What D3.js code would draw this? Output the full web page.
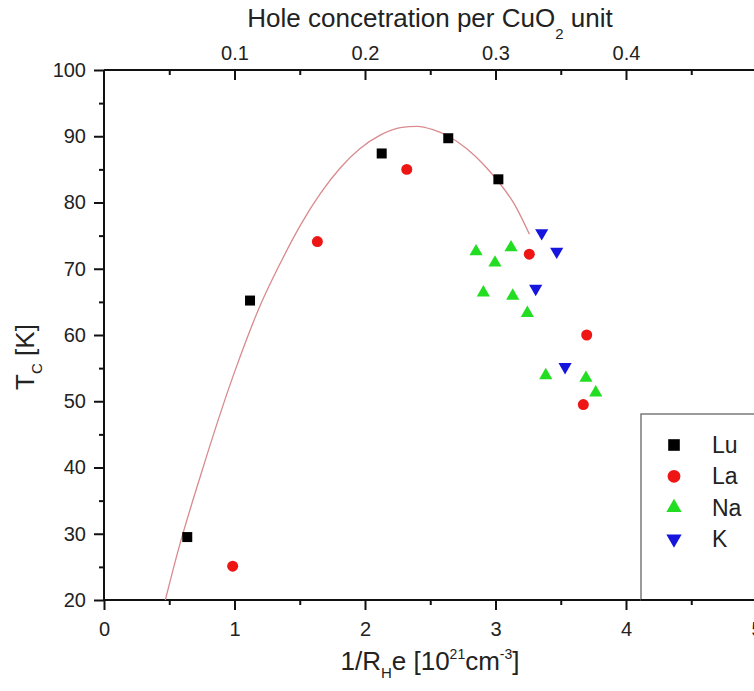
<!DOCTYPE html>
<html>
<head>
<meta charset="utf-8">
<script src="https://cdn.jsdelivr.net/npm/d3@7"></script>
<style>
  body { margin: 0; background: #fff; }
  svg { display: block; font-family: "Liberation Sans", Arial, sans-serif; }
</style>
</head>
<body>
<div id="chart"></div>
<script>
// data
var luX = [0.638, 1.119, 2.128, 2.638, 3.022];
var luY = [29.5, 65.2, 87.4, 89.7, 83.5];

var laX = [0.986, 1.635, 2.32, 3.259, 3.699, 3.673];
var laY = [25.1, 74.1, 85.0, 72.2, 60.0, 49.5];

var naX = [2.851, 2.996, 3.119, 2.907, 3.132, 3.244, 3.385, 3.693, 3.768];
var naY = [72.6, 70.9, 73.2, 66.4, 65.9, 63.3, 53.9, 53.5, 51.3];

var kX = [3.354, 3.469, 3.308, 3.533];
var kY = [75.4, 72.6, 67.0, 55.2];

// fitted curve
var fitX = [0.47, 0.57, 0.74, 1.00, 1.20, 1.35, 1.50, 1.66, 1.81, 1.96, 2.12, 2.27, 2.40, 2.52, 2.64, 2.78, 2.91, 3.02, 3.14, 3.26];
var fitY = [20.0, 27.6, 38.8, 54.4, 64.6, 70.8, 76.4, 81.4, 85.2, 88.1, 90.2, 91.3, 91.5, 91.0, 90.0, 88.1, 85.7, 83.2, 79.9, 75.2];

var xTicks = [0, 1, 2, 3, 4, 5];
var xMinor = [0.5, 1.5, 2.5, 3.5, 4.5];
var topTicks = [0.1, 0.2, 0.3, 0.4];
var topMinor = [0.05, 0.15, 0.25, 0.35, 0.45];
var yTicks = [20, 30, 40, 50, 60, 70, 80, 90, 100];
var yMinor = [25, 35, 45, 55, 65, 75, 85, 95];

var seriesNames = ["Lu", "La", "Na", "K"];

var W = 754, H = 691;
var svg = d3.select("#chart").append("svg")
  .attr("width", W)
  .attr("height", H);

var x = d3.scaleLinear().domain([0, 5]).range([104, 756.5]);
var xTop = d3.scaleLinear().domain([0, 0.5]).range([104, 756.5]);
var y = d3.scaleLinear().domain([20, 100]).range([600, 70]);

var textCol = "#222";

// axes
function styleAxis(g) {
  g.select(".domain").remove();
  g.selectAll(".tick line").attr("stroke", "#111").attr("stroke-width", 2);
  g.selectAll(".tick text").attr("fill", textCol).attr("font-size", 20)
    .attr("font-family", "Liberation Sans, Arial, sans-serif");
}

svg.append("g").attr("transform", "translate(0,600)")
  .call(d3.axisBottom(x).tickValues(xTicks).tickSize(10).tickPadding(12).tickFormat(d3.format("d")))
  .call(styleAxis);
svg.append("g").attr("transform", "translate(0,600)")
  .call(d3.axisBottom(x).tickValues(xMinor).tickSize(5).tickFormat(""))
  .call(styleAxis);

svg.append("g").attr("transform", "translate(0,70)")
  .call(d3.axisTop(xTop).tickValues(topTicks).tickSize(-10).tickPadding(10).tickFormat(d3.format(".1f")))
  .call(styleAxis);
svg.append("g").attr("transform", "translate(0,70)")
  .call(d3.axisTop(xTop).tickValues(topMinor).tickSize(-5).tickFormat(""))
  .call(styleAxis);

svg.append("g").attr("transform", "translate(104,0)")
  .call(d3.axisLeft(y).tickValues(yTicks).tickSize(10).tickPadding(8))
  .call(styleAxis);
svg.append("g").attr("transform", "translate(104,0)")
  .call(d3.axisLeft(y).tickValues(yMinor).tickSize(5).tickFormat(""))
  .call(styleAxis);

// frame
var frame = svg.append("g").attr("stroke", "#111").attr("stroke-width", 2);
frame.append("line").attr("x1", 104).attr("x2", 104).attr("y1", 70).attr("y2", 600);
frame.append("line").attr("x1", 104).attr("x2", 757).attr("y1", 70).attr("y2", 70);
frame.append("line").attr("x1", 104).attr("x2", 757).attr("y1", 600).attr("y2", 600);
frame.append("line").attr("x1", 757).attr("x2", 757).attr("y1", 70).attr("y2", 600);

// fit line
var fit = fitX.map(function (d, i) { return [d, fitY[i]]; });
svg.append("path")
  .datum(fit)
  .attr("fill", "none")
  .attr("stroke", "#d98a8e")
  .attr("stroke-width", 1.3)
  .attr("d", d3.line().x(d => x(d[0])).y(d => y(d[1])).curve(d3.curveMonotoneX));

// markers
var sym = {
  Lu: { type: d3.symbolSquare, size: 100, color: "#000", rot: 0, xs: luX, ys: luY },
  La: { type: d3.symbolCircle, size: 95, color: "#ee1515", rot: 0, xs: laX, ys: laY },
  Na: { type: d3.symbolTriangle, size: 75, color: "#22dd22", rot: 0, xs: naX, ys: naY },
  K: { type: d3.symbolTriangle, size: 75, color: "#1515dd", rot: 180, xs: kX, ys: kY }
};

seriesNames.forEach(function (name) {
  var s = sym[name];
  svg.append("g").selectAll("path")
    .data(s.xs.map(function (d, i) { return [d, s.ys[i]]; }))
    .enter().append("path")
    .attr("d", d3.symbol().type(s.type).size(s.size))
    .attr("transform", d => "translate(" + x(d[0]) + "," + y(d[1]) + ") rotate(" + s.rot + ")")
    .attr("fill", s.color);
});

// legend
var leg = svg.append("g");
leg.append("rect")
  .attr("x", 641).attr("y", 414)
  .attr("width", 130).attr("height", 186)
  .attr("fill", "#fff")
  .attr("stroke", "#666")
  .attr("stroke-width", 1.3);

seriesNames.forEach(function (name, i) {
  var s = sym[name];
  var ly = 445 + i * 31.3;
  leg.append("path")
    .attr("d", d3.symbol().type(s.type).size(s.size * 1.35))
    .attr("transform", "translate(674," + ly + ") rotate(" + s.rot + ")")
    .attr("fill", s.color);
  leg.append("text")
    .attr("x", 712).attr("y", ly + 8)
    .attr("font-size", 23)
    .attr("fill", textCol)
    .text(name);
});
svg.append("line").attr("x1", 641).attr("x2", 757).attr("y1", 600).attr("y2", 600)
  .attr("stroke", "#111").attr("stroke-width", 2);

// titles
var tTop = svg.append("text")
  .attr("x", 430).attr("y", 27)
  .attr("text-anchor", "middle")
  .attr("font-size", 26)
  .attr("fill", textCol);
tTop.append("tspan").text("Hole concetration per CuO");
tTop.append("tspan").attr("font-size", 15).attr("dy", 12).text("2");
tTop.append("tspan").attr("dy", -12).text(" unit");

var tBot = svg.append("text")
  .attr("x", 430).attr("y", 670)
  .attr("text-anchor", "middle")
  .attr("font-size", 26)
  .attr("fill", textCol);
tBot.append("tspan").text("1/R");
tBot.append("tspan").attr("font-size", 15).attr("dy", 8).text("H");
tBot.append("tspan").attr("dy", -8).text("e [10");
tBot.append("tspan").attr("font-size", 14).attr("dy", -11).text("21");
tBot.append("tspan").attr("dy", 11).text("cm");
tBot.append("tspan").attr("font-size", 14).attr("dy", -11).text("-3");
tBot.append("tspan").attr("dy", 11).text("]");

var tLeft = svg.append("text")
  .attr("transform", "translate(34,357) rotate(-90)")
  .attr("text-anchor", "middle")
  .attr("font-size", 26)
  .attr("fill", textCol);
tLeft.append("tspan").text("T");
tLeft.append("tspan").attr("font-size", 15).attr("dy", 8).text("C");
tLeft.append("tspan").attr("dy", -8).text(" [K]");
</script>
</body>
</html>
